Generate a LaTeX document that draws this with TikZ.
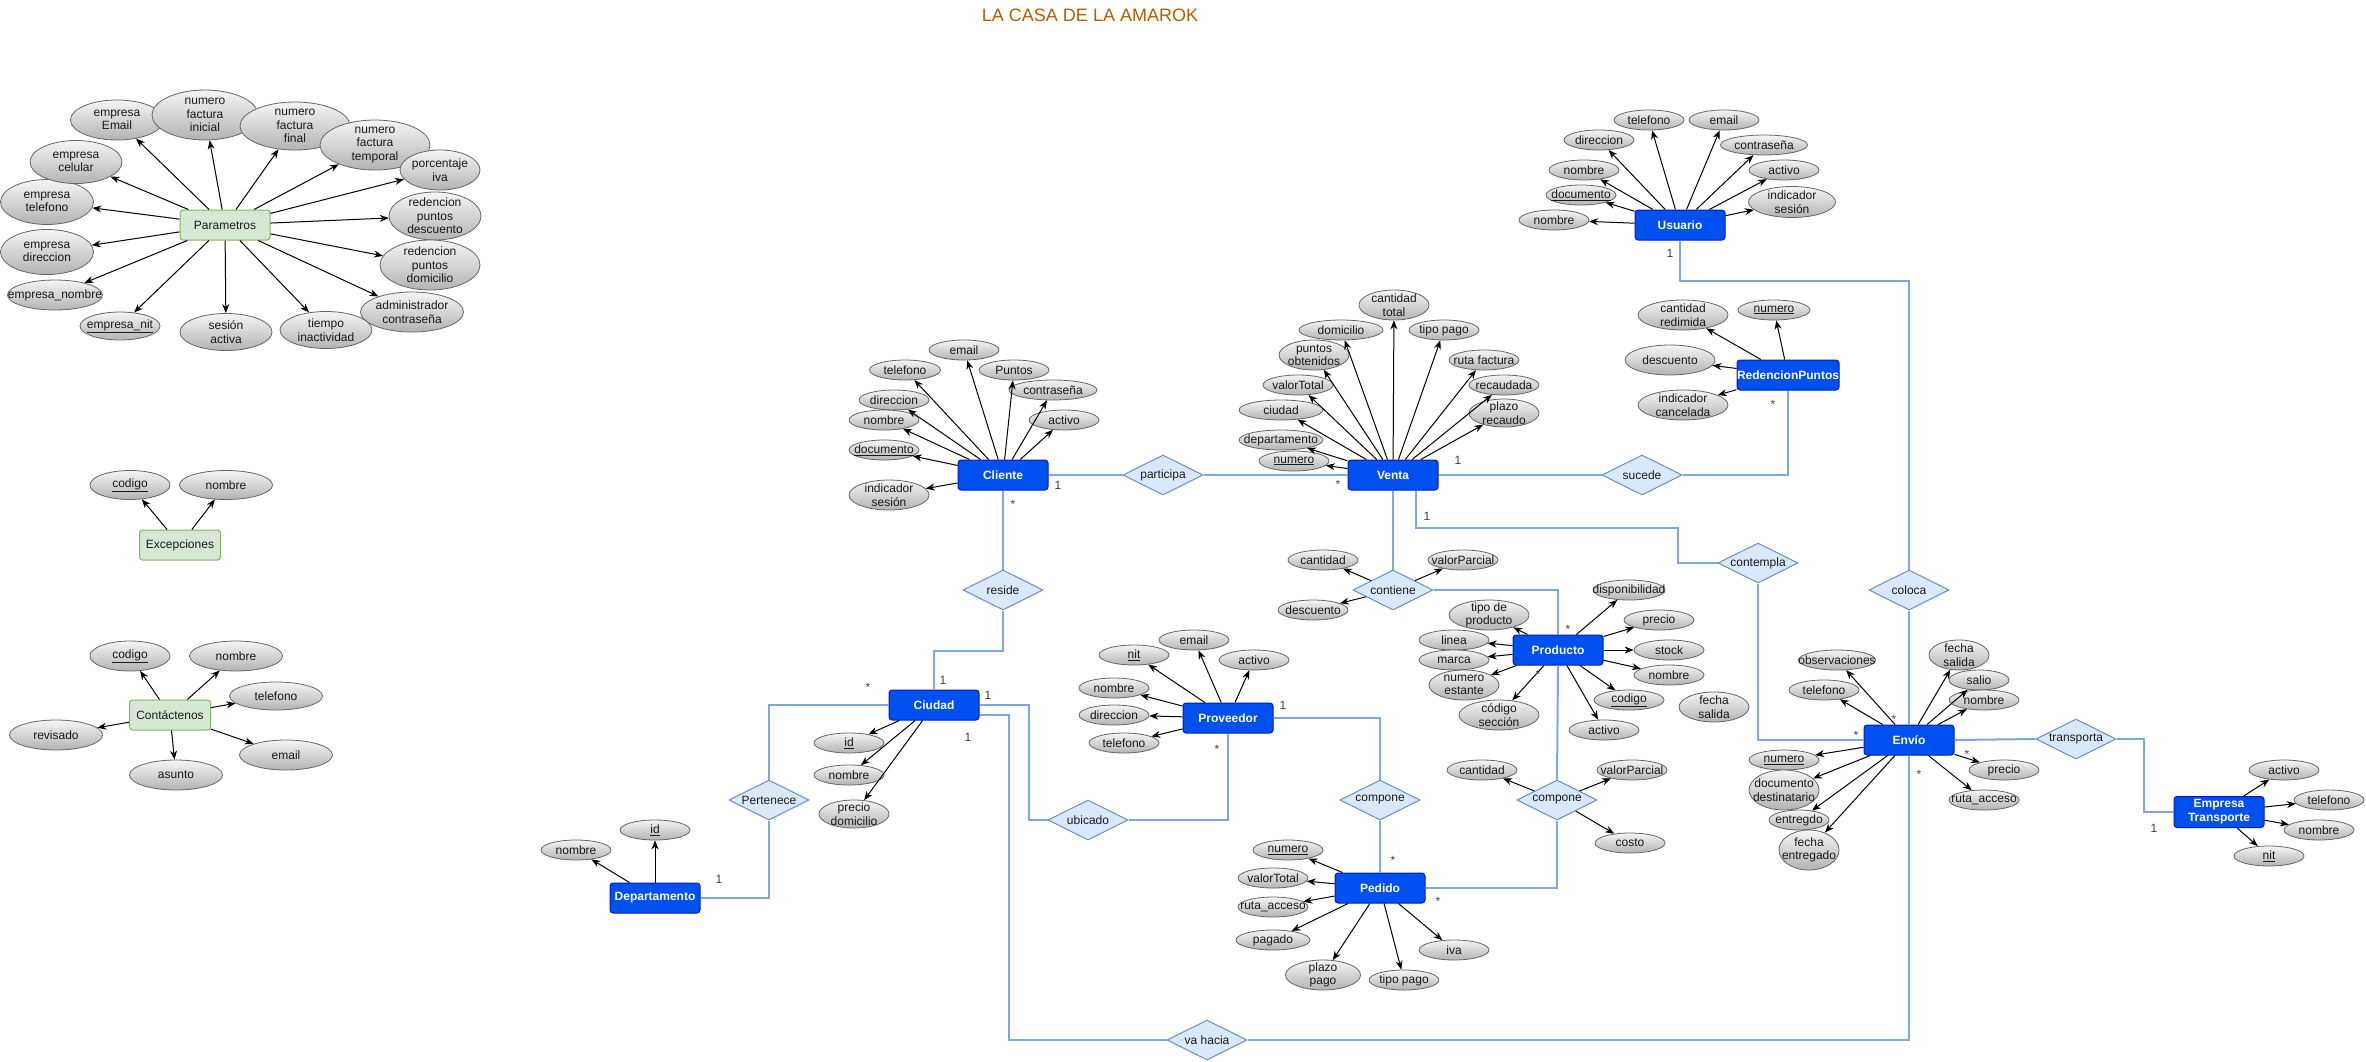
\documentclass[tikz,border=0pt]{standalone}
\usepackage{fontspec}
\setmainfont{Liberation Sans}
\usetikzlibrary{shapes.geometric,arrows.meta,calc}
\definecolor{entfill}{HTML}{0050EF}
\definecolor{entdraw}{HTML}{001DBC}
\definecolor{relfill}{HTML}{DAE8FC}
\definecolor{reldraw}{HTML}{6C8EBF}
\definecolor{linkc}{HTML}{7EA6E0}
\definecolor{grfill}{HTML}{D5E8D4}
\definecolor{grdraw}{HTML}{82B366}
\definecolor{attrtop}{HTML}{F5F5F5}
\definecolor{attrbot}{HTML}{B3B3B3}
\definecolor{attrdraw}{HTML}{666666}
\definecolor{titlec}{HTML}{B35C00}
\definecolor{txtc}{HTML}{1A1A1A}
\tikzset{
  entbox/.style={rectangle, rounded corners=3pt, fill=entfill, draw=entdraw, line width=1pt, text=white,
    font=\fontsize{12}{14}\selectfont\bfseries, minimum width=90pt, minimum height=30pt, inner sep=0pt, align=center},
  greenbox/.style={rectangle, rounded corners=3pt, fill=grfill, draw=grdraw, line width=1pt,
    font=\fontsize{12}{14}\selectfont, text=txtc, minimum width=81pt, minimum height=30pt, inner sep=0pt},
  relbox/.style={diamond, aspect=2, fill=relfill, draw=reldraw, line width=1pt, minimum width=80pt,
    minimum height=40pt, inner sep=0pt, font=\fontsize{12}{14}\selectfont, text=txtc},
  attrshape/.style={ellipse, draw=attrdraw, line width=0.8pt, top color=attrtop, bottom color=attrbot, inner sep=0pt},
  attrtext/.style={font=\fontsize{12}{13.5}\selectfont, align=center, inner sep=0pt, text=txtc},
  relline/.style={draw=linkc, line width=2pt},
  attrarrow/.style={draw=black, line width=1pt, -{Stealth[length=9pt,width=7pt]}},
  cardlbl/.style={font=\fontsize{12}{14}\selectfont, text=black!75, inner sep=0pt},
  titlestyle/.style={font=\fontsize{18}{20}\selectfont, text=titlec, inner sep=0pt}
}
\newcommand{\attr}[6]{%
  \node[attrshape, minimum width=#4pt, minimum height=#5pt] (#1) at (#2,#3) {};
  \node[attrtext] (#1-t) at (#1.center) {#6};
}
\begin{document}
\begin{tikzpicture}[x=1pt,y=-1pt]
\useasboundingbox (0,0) rectangle (2366,1061);
\node[titlestyle] (title) at (1090,15) {LA CASA DE LA AMAROK};

% ---------------- Parametros
\node[greenbox, minimum width=90pt] (par) at (225,225) {Parametros};
\attr{p1}{117}{120}{93}{40}{empresa\\Email}
\attr{p2}{205}{115}{106}{50}{numero\\factura\\inicial}
\attr{p3}{295}{126}{110}{48}{numero\\factura\\final}
\attr{p4}{375}{145}{110}{50}{numero\\factura\\temporal}
\attr{p5}{440}{170}{80}{40}{porcentaje\\iva}
\attr{p6}{435}{216}{92}{48}{redencion\\puntos\\descuento}
\attr{p7}{430}{265}{100}{50}{redencion\\puntos\\domicilio}
\attr{p8}{412}{312}{103}{40}{administrador\\contraseña}
\attr{p9}{326}{330}{92}{37}{tiempo\\inactividad}
\attr{p10}{226}{332}{92}{37}{sesión\\activa}
\attr{p11}{120}{326}{80}{28}{\underline{empresa\_nit}}
\attr{p12}{55}{295}{95}{30}{empresa\_nombre}
\attr{p13}{47}{252}{93}{45}{empresa\\direccion}
\attr{p14}{47}{202}{93}{45}{empresa\\telefono}
\attr{p15}{76}{162}{92}{43}{empresa\\celular}
\foreach \t in {p1,p2,p3,p4,p5,p6,p7,p8,p9,p10,p11,p12,p13,p14,p15}
  \draw[attrarrow] (par) -- (\t);

% ---------------- Excepciones
\node[greenbox] (exc) at (180,545) {Excepciones};
\attr{ex1}{130}{485}{80}{29}{\underline{codigo}}
\attr{ex2}{226}{485}{93}{29}{nombre}
\foreach \t in {ex1,ex2} \draw[attrarrow] (exc) -- (\t);

% ---------------- Contactenos
\node[greenbox] (con) at (170,715) {Contáctenos};
\attr{co1}{130}{656}{80}{30}{\underline{codigo}}
\attr{co2}{236}{656}{93}{30}{nombre}
\attr{co3}{276}{696}{93}{28}{telefono}
\attr{co4}{56}{735}{93}{30}{revisado}
\attr{co5}{176}{775}{93}{30}{asunto}
\attr{co6}{286}{755}{93}{30}{email}
\foreach \t in {co1,co2,co3,co4,co5,co6} \draw[attrarrow] (con) -- (\t);

% ---------------- Cliente
\node[entbox] (cliente) at (1003,475) {Cliente};
\attr{cl1}{964}{350}{70}{20}{email}
\attr{cl2}{905}{370}{71}{20}{telefono}
\attr{cl3}{1014}{370}{70}{20}{Puntos}
\attr{cl4}{1053}{390}{88}{20}{contraseña}
\attr{cl5}{894}{400}{70}{20}{direccion}
\attr{cl6}{884}{420}{70}{20}{nombre}
\attr{cl7}{1064}{420}{70}{20}{activo}
\attr{cl8}{884}{450}{70}{20}{\underline{documento}}
\attr{cl9}{889}{495}{80}{30}{indicador\\sesión}
\foreach \t in {cl1,cl2,cl3,cl4,cl5,cl6,cl7,cl8,cl9} \draw[attrarrow] (cliente) -- (\t);

% ---------------- Venta
\node[entbox] (venta) at (1393,475) {Venta};
\attr{ve1}{1394}{305}{70}{30}{cantidad\\total}
\attr{ve2}{1341}{330}{84}{20}{domicilio}
\attr{ve3}{1444}{330}{70}{20}{tipo pago}
\attr{ve4}{1314}{355}{70}{30}{puntos\\obtenidos}
\attr{ve5}{1484}{360}{70}{20}{ruta factura}
\attr{ve6}{1298}{385}{70}{20}{valorTotal}
\attr{ve7}{1504}{385}{70}{20}{recaudada}
\attr{ve8}{1281}{410}{84}{20}{ciudad}
\attr{ve9}{1504}{413}{70}{28}{plazo\\recaudo}
\attr{ve10}{1281}{440}{84}{20}{departamento}
\attr{ve11}{1294}{461}{70}{20}{\underline{numero}}
\foreach \t in {ve1,ve2,ve3,ve4,ve5,ve6,ve7,ve8,ve9,ve10,ve11} \draw[attrarrow] (venta) -- (\t);

% ---------------- Usuario
\node[entbox] (usuario) at (1680,225) {Usuario};
\attr{us1}{1649}{120}{70}{20}{telefono}
\attr{us2}{1724}{120}{70}{20}{email}
\attr{us3}{1599}{140}{70}{20}{direccion}
\attr{us4}{1764}{145}{87}{20}{contraseña}
\attr{us5}{1584}{170}{70}{20}{nombre}
\attr{us6}{1784}{170}{70}{20}{activo}
\attr{us7}{1581}{195}{70}{20}{\underline{documento}}
\attr{us8}{1792}{202}{87}{31}{indicador\\sesión}
\attr{us9}{1554}{220}{70}{20}{nombre}
\foreach \t in {us1,us2,us3,us4,us5,us6,us7,us8,us9} \draw[attrarrow] (usuario) -- (\t);

% ---------------- RedencionPuntos
\node[entbox, minimum width=100pt] (redencion) at (1788,375) {RedencionPuntos};
\attr{rp1}{1683}{315}{90}{30}{cantidad\\redimida}
\attr{rp2}{1774}{310}{72}{20}{\underline{numero}}
\attr{rp3}{1670}{360}{90}{30}{descuento}
\attr{rp4}{1683}{405}{90}{30}{indicador\\cancelada}
\foreach \t in {rp1,rp2,rp3,rp4} \draw[attrarrow] (redencion) -- (\t);

% ---------------- Producto
\node[entbox] (producto) at (1558,650) {Producto};
\attr{pr1}{1629}{590}{72}{20}{disponibilidad}
\attr{pr2}{1659}{620}{70}{20}{precio}
\attr{pr3}{1489}{615}{80}{30}{tipo de\\producto}
\attr{pr4}{1454}{640}{70}{20}{linea}
\attr{pr5}{1669}{650}{70}{20}{stock}
\attr{pr6}{1454}{660}{70}{20}{marca}
\attr{pr7}{1669}{675}{70}{20}{nombre}
\attr{pr8}{1464}{685}{70}{30}{numero\\estante}
\attr{pr9}{1629}{700}{70}{20}{\underline{codigo}}
\attr{pr10}{1499}{715}{80}{30}{código\\sección}
\attr{pr11}{1604}{730}{70}{20}{activo}
\attr{pr12}{1714}{707}{70}{30}{fecha\\salida}
\foreach \t in {pr1,pr2,pr3,pr4,pr5,pr6,pr7,pr8,pr9,pr10,pr11} \draw[attrarrow] (producto) -- (\t);

% ---------------- contiene
\node[relbox] (contiene) at (1393,590) {contiene};
\attr{ct1}{1323}{560}{70}{20}{cantidad}
\attr{ct2}{1463}{560}{70}{20}{valorParcial}
\attr{ct3}{1313}{610}{70}{20}{descuento}
\foreach \t in {ct1,ct2,ct3} \draw[attrarrow] (contiene) -- (\t);

% ---------------- Ciudad / Departamento
\node[entbox] (ciudad) at (934,705) {Ciudad};
\attr{ci1}{849}{743}{70}{20}{\underline{id}}
\attr{ci2}{849}{775}{70}{20}{nombre}
\attr{ci3}{854}{814}{70}{28}{precio\\domicilio}
\foreach \t in {ci1,ci2,ci3} \draw[attrarrow] (ciudad) -- (\t);
\node[entbox] (departamento) at (655,898) {Departamento};
\attr{de1}{655}{830}{70}{20}{\underline{id}}
\attr{de2}{576}{850}{70}{20}{nombre}
\foreach \t in {de1,de2} \draw[attrarrow] (departamento) -- (\t);

% ---------------- Proveedor
\node[entbox] (proveedor) at (1228,718) {Proveedor};
\attr{pv1}{1134}{655}{70}{20}{\underline{nit}}
\attr{pv2}{1194}{640}{70}{20}{email}
\attr{pv3}{1254}{660}{70}{20}{activo}
\attr{pv4}{1114}{688}{70}{20}{nombre}
\attr{pv5}{1114}{715}{70}{20}{direccion}
\attr{pv6}{1124}{743}{70}{20}{telefono}
\foreach \t in {pv1,pv2,pv3,pv4,pv5,pv6} \draw[attrarrow] (proveedor) -- (\t);

% ---------------- Pedido
\node[entbox] (pedido) at (1380,888) {Pedido};
\attr{pe1}{1288}{850}{70}{20}{\underline{numero}}
\attr{pe2}{1273}{878}{70}{20}{valorTotal}
\attr{pe3}{1273}{907}{70}{20}{ruta\_acceso}
\attr{pe4}{1273}{940}{74}{20}{pagado}
\attr{pe5}{1323}{975}{75}{30}{plazo\\pago}
\attr{pe6}{1404}{980}{70}{20}{tipo pago}
\attr{pe7}{1454}{950}{70}{20}{iva}
\foreach \t in {pe1,pe2,pe3,pe4,pe5,pe6,pe7} \draw[attrarrow] (pedido) -- (\t);

% ---------------- compone (producto-pedido)
\node[relbox] (componeb) at (1557,800) {compone};
\attr{cb1}{1482}{770}{70}{20}{cantidad}
\attr{cb2}{1632}{770}{70}{20}{valorParcial}
\attr{cb3}{1630}{843}{70}{20}{costo}
\foreach \t in {cb1,cb2,cb3} \draw[attrarrow] (componeb) -- (\t);
\node[relbox] (componea) at (1380,800) {compone};

% ---------------- Envio
\node[entbox] (envio) at (1909,740) {Envío};
\attr{en1}{1837}{660}{77}{20}{observaciones}
\attr{en2}{1824}{690}{70}{20}{telefono}
\attr{en3}{1959}{655}{60}{30}{fecha\\salida}
\attr{en4}{1979}{680}{60}{20}{salio}
\attr{en5}{1984}{700}{70}{20}{nombre}
\attr{en6}{1784}{760}{70}{20}{\underline{numero}}
\attr{en7}{1784}{790}{70}{40}{documento\\destinatario}
\attr{en8}{1799}{820}{60}{20}{entregdo}
\attr{en9}{1809}{850}{60}{40}{fecha\\entregado}
\attr{en10}{2004}{770}{70}{20}{precio}
\attr{en11}{1984}{800}{70}{20}{ruta\_acceso}
\foreach \t in {en1,en2,en3,en4,en5,en6,en7,en8,en9,en10,en11} \draw[attrarrow] (envio) -- (\t);

% ---------------- Empresa Transporte
\node[entbox, minimum height=31pt] (empresa) at (2219,812) {Empresa\\Transporte};
\attr{em1}{2284}{770}{70}{20}{activo}
\attr{em2}{2329}{800}{70}{20}{telefono}
\attr{em3}{2319}{830}{70}{20}{nombre}
\attr{em4}{2269}{856}{70}{20}{\underline{nit}}
\foreach \t in {em1,em2,em3,em4} \draw[attrarrow] (empresa) -- (\t);

% ---------------- relationships
\node[relbox] (participa) at (1163,475) {participa};
\node[relbox] (sucede) at (1642,475) {sucede};
\node[relbox] (reside) at (1003,590) {reside};
\node[relbox] (pertenece) at (769,800) {Pertenece};
\node[relbox] (ubicado) at (1088,820) {ubicado};
\node[relbox] (vahacia) at (1207,1040) {va hacia};
\node[relbox] (contempla) at (1758,563) {contempla};
\node[relbox] (coloca) at (1909,590) {coloca};
\node[relbox] (transporta) at (2076,739) {transporta};

% ---------------- connectors
\draw[relline] (cliente.east) -- (participa.west);
\draw[relline] (participa.east) -- (venta.west);
\draw[relline] (venta.east) -- (sucede.west);
\draw[relline] (sucede.east) -| (redencion.south);
\draw[relline] (usuario.south) -- ++(0,40) -| (coloca.north);
\draw[relline] (coloca.south) -- (envio.north);
\draw[relline] (venta.south) -- (contiene.north);
\draw[relline] (contiene.east) -| (producto.north);
\draw[relline] (producto.south) -- (componeb.north);
\draw[relline] (componeb.south) |- (pedido.east);
\draw[relline] (componea.south) -- (pedido.north);
\draw[relline] (proveedor.east) -| (componea.north);
\draw[relline] (proveedor.south) |- (ubicado.east);
\draw[relline] (ciudad.east) -- (1029,705) |- (ubicado.west);
\draw[relline] ($(ciudad.east)+(0,10)$) -- (1009,715) |- (vahacia.west);
\draw[relline] (vahacia.east) -| (envio.south);
\draw[relline] (ciudad.west) -| (pertenece.north);
\draw[relline] (pertenece.south) |- (departamento.east);
\draw[relline] (cliente.south) -- (reside.north);
\draw[relline] (reside.south) -- ++(0,40) -| (ciudad.north);
\draw[relline] ($(venta.south)+(23,0)$) -- (1416,528) -- (1678,528) |- (contempla.west);
\draw[relline] (contempla.south) |- (envio.west);
\draw[relline] (envio.east) -- (transporta.west);
\draw[relline] (transporta.east) -- (2144,739) |- (empresa.west);

% ---------------- cardinalities
\node[cardlbl] (c1) at (1058,485) {1};
\node[cardlbl] (c2) at (1013,504) {*};
\node[cardlbl] (c3) at (1338,484) {*};
\node[cardlbl] (c4) at (1458,460) {1};
\node[cardlbl] (c5) at (1427,516) {1};
\node[cardlbl] (c6) at (1670,253) {1};
\node[cardlbl] (c7) at (1773,404) {*};
\node[cardlbl] (c8) at (1568,629) {*};
\node[cardlbl] (c9) at (1538,674) {*};
\node[cardlbl] (c10) at (943,680) {1};
\node[cardlbl] (c11) at (868,687) {*};
\node[cardlbl] (c12) at (988,695) {1};
\node[cardlbl] (c13) at (968,737) {1};
\node[cardlbl] (c14) at (719,879) {1};
\node[cardlbl] (c15) at (1283,705) {1};
\node[cardlbl] (c16) at (1217,749) {*};
\node[cardlbl] (c17) at (1393,860) {*};
\node[cardlbl] (c18) at (1438,901) {*};
\node[cardlbl] (c19) at (1894,719) {*};
\node[cardlbl] (c20) at (1856,735) {*};
\node[cardlbl] (c21) at (1967,754) {*};
\node[cardlbl] (c22) at (1919,774) {*};
\node[cardlbl] (c23) at (2154,828) {1};
\end{tikzpicture}
\end{document}
